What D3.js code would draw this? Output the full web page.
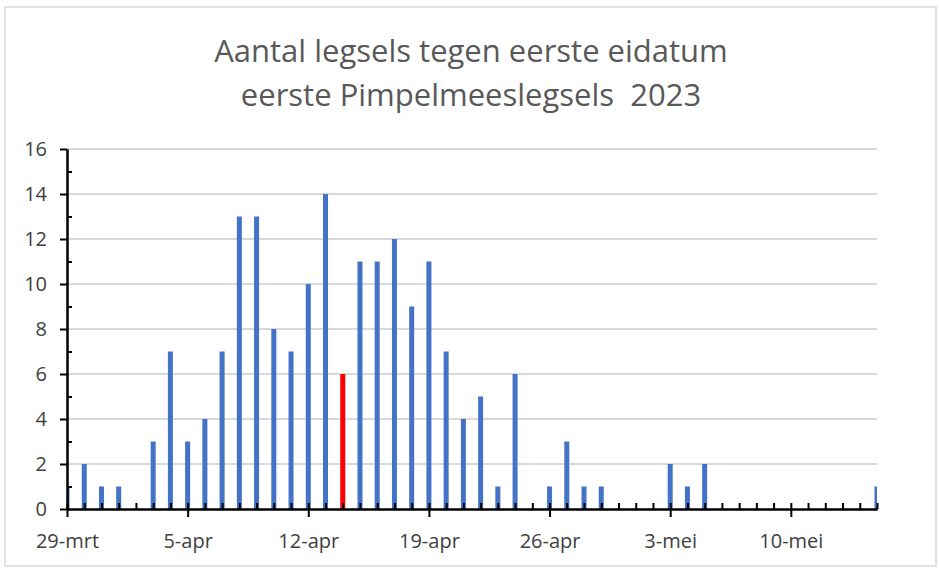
<!DOCTYPE html>
<html lang="nl">
<head>
<meta charset="UTF-8">
<title>Pimpelmees legsels 2023</title>
<script src="https://d3js.org/d3.v7.min.js"></script>
<style>
  body { margin: 0; background: #fff; }
  svg text { font-family: "Open Sans", Lato, sans-serif; }
</style>
</head>
<body>
<svg id="chart"></svg>
<script>
  // eerste eidatum per dag, 29 maart t/m 15 mei 2023
  const startDatum = '2023-03-29'
  const aantallen = [1, 2, 1, 1, 0, 3, 7, 3, 4, 7, 13, 13, 8, 7, 10, 14, 6, 11, 11, 12, 9, 11, 7, 4, 5, 1, 6, 0,
    1, 3, 1, 1, 0, 0, 0, 2, 1, 2, 0, 0, 0, 0, 0, 0, 0, 0, 0, 1]
  const rodeDatum = '2023-04-14' // afwijkende kleur
  const yTicks = [0, 2, 4, 6, 8, 10, 12, 14, 16]
  const titel = ['Aantal legsels tegen eerste eidatum', 'eerste Pimpelmeeslegsels  2023']

  const parse = d3.timeParse('%Y-%m-%d')
  const start = parse(startDatum)
  const data = aantallen.map((v, i) => ({ datum: d3.timeDay.offset(start, i), aantal: v }))
  const rood = parse(rodeDatum)

  const nl = d3.timeFormatLocale({
    dateTime: '%a %e %B %Y %X', date: '%d-%m-%Y', time: '%H:%M:%S', periods: ['AM', 'PM'],
    days: ['zondag', 'maandag', 'dinsdag', 'woensdag', 'donderdag', 'vrijdag', 'zaterdag'],
    shortDays: ['zo', 'ma', 'di', 'wo', 'do', 'vr', 'za'],
    months: ['januari', 'februari', 'maart', 'april', 'mei', 'juni', 'juli', 'augustus', 'september', 'oktober', 'november', 'december'],
    shortMonths: ['jan', 'feb', 'mrt', 'apr', 'mei', 'jun', 'jul', 'aug', 'sep', 'okt', 'nov', 'dec']
  })
  const fmt = nl.format('%-d-%b')

  const width = 939, height = 569
  const margin = { left: 67, right: 62, top: 149, bottom: 60 }

  const svg = d3.select('#chart').attr('width', width).attr('height', height)

  // rand rond de grafiek
  svg.append('rect')
    .attr('x', 5).attr('y', 7).attr('width', 931).attr('height', 559)
    .attr('fill', 'none').attr('stroke', '#d9d9d9').attr('stroke-width', 1.5)

  const x = d3.scaleTime()
    .domain([data[0].datum, data[data.length - 1].datum])
    .range([margin.left, width - margin.right])
  const y = d3.scaleLinear().domain([0, 16]).range([height - margin.bottom, margin.top])

  // titel
  svg.append('text')
    .attr('text-anchor', 'middle')
    .attr('fill', '#595959')
    .style('font-size', '31px')
    .selectAll('tspan')
    .data(titel)
    .join('tspan')
    .attr('x', 471)
    .attr('y', (d, i) => i === 0 ? 62 : 106)
    .style('white-space', 'pre')
    .text(d => d)

  // rasterlijnen
  svg.append('g')
    .selectAll('line')
    .data(yTicks.slice(1))
    .join('line')
    .attr('x1', x.range()[0]).attr('x2', x.range()[1])
    .attr('y1', d => y(d)).attr('y2', d => y(d))
    .attr('stroke', '#d9d9d9').attr('stroke-width', 2)

  // staven, afgekapt op het plotgebied
  svg.append('clipPath').attr('id', 'plot')
    .append('rect')
    .attr('x', x.range()[0]).attr('y', 0)
    .attr('width', x.range()[1] - x.range()[0]).attr('height', height)

  const barW = 5
  svg.append('g')
    .attr('clip-path', 'url(#plot)')
    .selectAll('rect')
    .data(data.filter(d => d.aantal > 0))
    .join('rect')
    .attr('x', d => x(d.datum) - barW / 2)
    .attr('y', d => y(d.aantal))
    .attr('width', barW)
    .attr('height', d => y(0) - y(d.aantal))
    .attr('fill', d => +d.datum === +rood ? '#ff0000' : '#4472c4')

  // y-as
  const yAs = svg.append('g').attr('transform', `translate(${x.range()[0]},0)`)
  yAs.append('g')
    .call(d3.axisLeft(y).tickValues(d3.range(1, 16, 2)).tickSize(-5).tickSizeOuter(0).tickFormat(''))
  yAs.append('g')
    .call(d3.axisLeft(y).tickValues(yTicks).tickSize(7).tickSizeOuter(0).tickPadding(13))
  yAs.selectAll('.domain').attr('stroke', '#000').attr('stroke-width', 2)
  yAs.selectAll('line').attr('stroke', '#000').attr('stroke-width', 2)
  yAs.selectAll('text').attr('fill', '#404040').style('font-size', '20px')

  // x-as
  const xAs = svg.append('g').attr('transform', `translate(0,${y(0)})`)
  xAs.append('g')
    .call(d3.axisBottom(x).ticks(d3.timeDay.every(1)).tickSize(-6).tickSizeOuter(0).tickFormat(''))
  xAs.append('g')
    .call(d3.axisBottom(x).tickValues(data.filter((d, i) => i % 7 === 0).map(d => d.datum))
      .tickSize(8).tickSizeOuter(0).tickPadding(17).tickFormat(fmt))
  xAs.selectAll('.domain').attr('stroke', '#000').attr('stroke-width', 2)
  xAs.selectAll('line').attr('stroke', '#000').attr('stroke-width', 2)
  xAs.selectAll('text').attr('fill', '#404040').style('font-size', '20px')
</script>
</body>
</html>
